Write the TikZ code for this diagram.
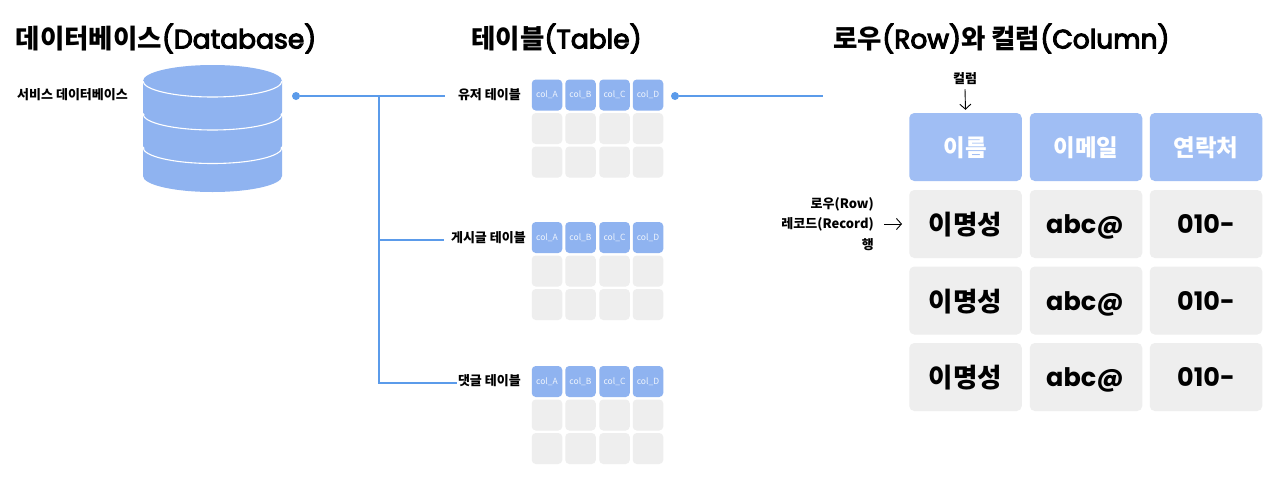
\documentclass[tikz,border=0pt]{standalone}
\usepackage{fontspec}
\setmainfont{Noto Sans CJK KR}
\newfontfamily\latinhead[FakeBold=4]{Poppins}
\newfontfamily\latinbig{Poppins}
\usetikzlibrary{arrows.meta}
\definecolor{dbblue}{HTML}{8FB3F0}
\definecolor{headblue}{HTML}{A0BEF4}
\definecolor{cellgray}{HTML}{EEEEEE}
\definecolor{linkblue}{HTML}{5B9BEA}
\newcommand{\lh}[1]{{\latinhead\mdseries #1}}
\newcommand{\lb}[1]{{\fontsize{25.5}{30}\selectfont\latinbig #1}}
\tikzset{
  x=1pt,y=-1pt,
  heading/.style={font=\fontsize{26.5}{30}\selectfont\bfseries,text=black,inner sep=0pt,anchor=center},
  smalllabel/.style={font=\fontsize{13}{15}\selectfont\bfseries,text=black,inner sep=0pt},
  minicell/.style={minimum width=30.5pt,minimum height=31pt,inner sep=0pt,rounded corners=4pt},
  minihead/.style={minicell,fill=dbblue,text=white!85!dbblue,font=\fontsize{8.5}{9}\selectfont},
  minibody/.style={minicell,fill=cellgray},
  bigcell/.style={minimum width=112.5pt,minimum height=68pt,inner sep=0pt,rounded corners=5pt},
  bighead/.style={bigcell,fill=headblue,text=white,text height=19pt,text depth=0pt,font=\fontsize{23.5}{28}\selectfont\bfseries},
  bigbody/.style={bigcell,fill=cellgray,text=black,text depth=0pt,font=\fontsize{26.5}{30}\selectfont\bfseries},
  dot/.style={circle,fill=linkblue,minimum size=8pt,inner sep=0pt},
  link/.style={draw=linkblue,line width=1.1pt},
  pointer/.style={draw=black,line width=0.9pt,-{Straight Barb[length=5pt,width=11pt]}},
}
\newcommand{\minitable}[2]{%
  \foreach \cx/\lab [count=\ci] in {547/col\_A,580.5/col\_B,614.5/col\_C,648/col\_D}{
    \node[minihead] (#1h\ci) at (\cx,#2) {\lab};
    \node[minibody] (#1a\ci) at (\cx,#2+33.5) {};
    \node[minibody] (#1b\ci) at (\cx,#2+67) {};
  }}
\begin{document}
\begin{tikzpicture}
\useasboundingbox (0,0) rectangle (1280,485);
\fill[white] (0,0) rectangle (1280,485);

\node[heading] (t1) at (166,38.5) {데이터베이스\lh{(Database)}};
\node[heading] (t2) at (556.5,38.5) {테이블\lh{(Table)}};
\node[heading] (t3) at (1001.5,38.5) {로우\lh{(Row)}와 컬럼\lh{(Column)}};

\node[smalllabel,anchor=west] (svc) at (17,95) {서비스 데이터베이스};

% database cylinder
\fill[dbblue] (143,81) -- (143,176) arc[start angle=180,end angle=360,x radius=69.5pt,y radius=16pt] -- (282,81) arc[start angle=0,end angle=180,x radius=69.5pt,y radius=16pt] -- cycle;
\foreach \yy in {81,114,147.5}{
  \draw[white,line width=1.1pt] (143,\yy) arc[start angle=180,end angle=360,x radius=69.5pt,y radius=16pt];
}
\fill[white] (141,110.5) -- (144.5,114.5) -- (141,118) -- cycle;
\fill[white] (284,110.5) -- (280.5,114.5) -- (284,118) -- cycle;
\fill[white] (141,144) -- (144.5,148) -- (141,151.5) -- cycle;
\fill[white] (284,144) -- (280.5,148) -- (284,151.5) -- cycle;

% tables
\minitable{u}{95}
\minitable{p}{237.5}
\minitable{c}{381.5}

\node[smalllabel,anchor=east] (lu) at (521,95) {유저 테이블};
\node[smalllabel,anchor=east] (lp) at (526,238) {게시글 테이블};
\node[smalllabel,anchor=east] (lc) at (521,381) {댓글 테이블};

% connectors
\node[dot] (d1) at (296,96) {};
\node[dot] (d2) at (675,96) {};
\coordinate (j1) at (379,96);
\coordinate (j2) at (379,240);
\coordinate (j3) at (379,383);
\coordinate (e1) at (445,96);
\coordinate (e2) at (444,240);
\coordinate (e3) at (457,383);
\coordinate (e4) at (823,96);
\draw[link] (d1) -- (e1);
\draw[link] (j1) -- (j3) -- (e3);
\draw[link] (j2) -- (e2);
\draw[link] (d2) -- (e4);

% big table
\foreach \cx/\hd/\val/\th [count=\ci] in {965.5/이름/이명성/21pt,1086/이메일/\lb{abc@\kern2pt}/19pt,1206/연락처/\lb{010-}/19pt}{
  \node[bighead] (h\ci) at (\cx,147) {\hd};
  \node[bigbody,text height=\th] (ra\ci) at (\cx,224) {\val};
  \node[bigbody,text height=\th] (rb\ci) at (\cx,300.5) {\val};
  \node[bigbody,text height=\th] (rc\ci) at (\cx,377) {\val};
}

\node[smalllabel] (col) at (965,79) {컬럼};
\draw[pointer] (col.south) ++(0,4) -- ([yshift=3pt]h1.north);
\node[smalllabel,anchor=east,align=right,font=\fontsize{13}{20.5}\selectfont\bfseries] (row) at (874,224) {로우(Row)\\레코드(Record)\\행};
\draw[pointer] ([xshift=10pt]row.east) -- ([xshift=-7pt]ra1.west);
\end{tikzpicture}
\end{document}
